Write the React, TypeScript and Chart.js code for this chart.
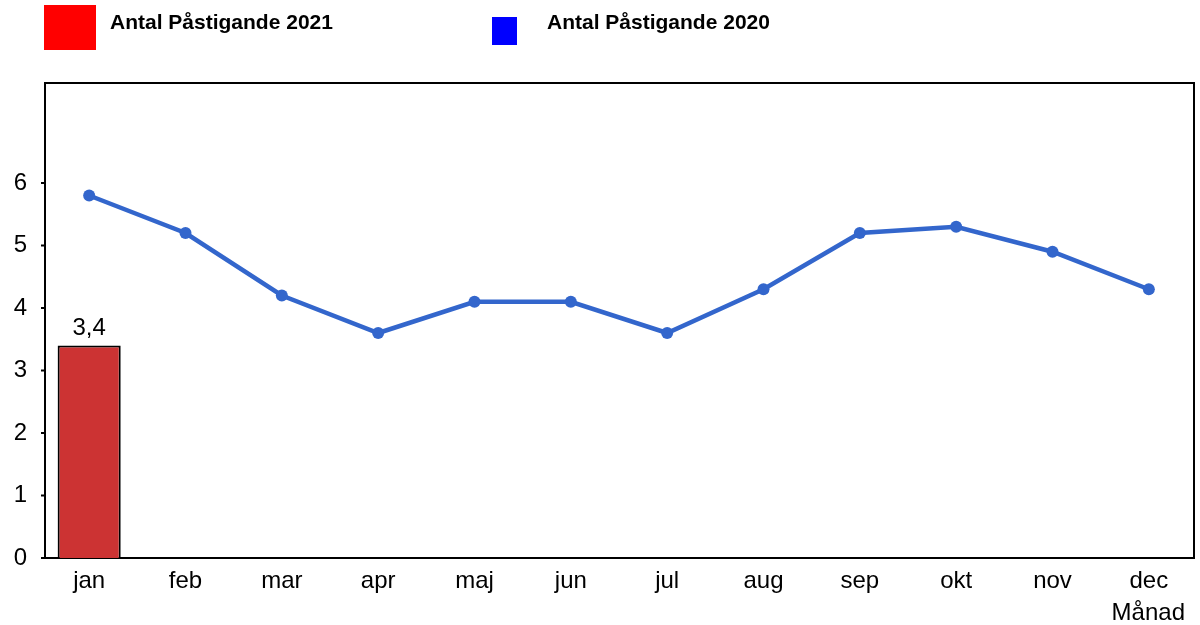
import React, { useEffect, useRef } from "react";
import { Chart, registerables } from "chart.js";

Chart.register(...registerables);

const months = ["jan", "feb", "mar", "apr", "maj", "jun", "jul", "aug", "sep", "okt", "nov", "dec"];
const values2021: (number | null)[] = [3.4, null, null, null, null, null, null, null, null, null, null, null];
const values2020 = [5.8, 5.2, 4.2, 3.6, 4.1, 4.1, 3.6, 4.3, 5.2, 5.3, 4.9, 4.3];
const legendLabels = ["Antal Påstigande 2021", "Antal Påstigande 2020"];
const legendColors = ["#FF0000", "#0000FF"];
const xTitle = "Månad";
const yMaxTick = 6;

const FONT = "'Liberation Sans', Arial, sans-serif";
const FRAME_INSET_L = 4;
const FRAME_INSET_R = 3;

const framePlugin = {
  id: "frame",
  beforeDatasetsDraw(chart: any) {
    const { ctx, chartArea } = chart;
    const l = chartArea.left + FRAME_INSET_L;
    const r = chartArea.right - FRAME_INSET_R;
    ctx.save();
    ctx.strokeStyle = "#000";
    ctx.lineWidth = 2;
    ctx.strokeRect(l, chartArea.top, r - l, chartArea.bottom - chartArea.top);
    // y tick marks
    const ys = chart.scales.y;
    ys.ticks.forEach((t: any) => {
      const y = ys.getPixelForValue(t.value);
      ctx.beginPath();
      ctx.moveTo(l - 4, y);
      ctx.lineTo(l, y);
      ctx.stroke();
    });
    ctx.restore();
  },
  afterDraw(chart: any) {
    const { ctx } = chart;
    ctx.save();
    // legend
    ctx.fillStyle = legendColors[0];
    ctx.fillRect(44, 5, 52, 45);
    ctx.fillStyle = legendColors[1];
    ctx.fillRect(492, 17, 25, 28);
    ctx.fillStyle = "#000";
    ctx.font = `bold 21px ${FONT}`;
    ctx.textBaseline = "alphabetic";
    ctx.textAlign = "left";
    ctx.fillText(legendLabels[0], 110, 29);
    ctx.fillText(legendLabels[1], 547, 29);
    // bar value labels
    ctx.font = `24px ${FONT}`;
    ctx.textAlign = "center";
    ctx.textBaseline = "alphabetic";
    const meta = chart.getDatasetMeta(0);
    meta.data.forEach((el: any, i: number) => {
      const v = values2021[i];
      if (v == null) return;
      ctx.fillText(String(v).replace(".", ","), el.x, el.y - 11);
    });
    // x title
    ctx.textAlign = "right";
    ctx.fillText(xTitle, 1185, 620);
    ctx.restore();
  },
};

export default function App() {
  const ref = useRef<HTMLCanvasElement>(null);
  useEffect(() => {
    if (!ref.current) return;
    const chart = new Chart(ref.current, {
      type: "bar",
      data: {
        labels: months,
        datasets: [
          {
            type: "bar",
            label: legendLabels[0],
            data: values2021,
            backgroundColor: "#CC3333",
            borderColor: "#000",
            borderWidth: 2,
            barPercentage: 0.655,
            categoryPercentage: 1,
            order: 2,
          },
          {
            type: "line",
            label: legendLabels[1],
            data: values2020,
            borderColor: "#3366CC",
            backgroundColor: "#3366CC",
            borderWidth: 4.5,
            pointRadius: 6,
            pointBorderWidth: 0,
            tension: 0,
            order: 1,
          } as any,
        ],
      },
      options: {
        animation: false,
        responsive: false,
        maintainAspectRatio: false,
        layout: { autoPadding: false, padding: { top: 83, right: 3, left: 0, bottom: 0 } },
        plugins: { legend: { display: false }, tooltip: { enabled: false } },
        scales: {
          x: {
            grid: { display: false, drawTicks: false },
            border: { display: false },
            ticks: { color: "#000", font: { size: 24, family: FONT }, padding: 9 },
            afterFit: (axis: any) => {
              axis.height = 67;
              axis.paddingLeft = 0;
              axis.paddingRight = 0;
            },
          },
          y: {
            min: 0,
            max: 7.6,
            grid: { display: false, drawTicks: false },
            border: { display: false },
            ticks: { stepSize: 1, color: "#000", font: { size: 24, family: FONT }, padding: 14 },
            afterBuildTicks: (axis: any) => {
              axis.ticks = axis.ticks.filter((t: any) => t.value <= yMaxTick);
            },
            afterFit: (axis: any) => {
              axis.width = 41;
              axis.paddingTop = 0;
              axis.paddingBottom = 0;
            },
          },
        },
      },
      plugins: [framePlugin],
    });
    return () => chart.destroy();
  }, []);
  return (
    <div style={{ position: "absolute", left: 0, top: 0, width: 1200, height: 625, background: "#fff" }}>
      <canvas ref={ref} width={1200} height={625} style={{ width: 1200, height: 625 }} />
    </div>
  );
}
